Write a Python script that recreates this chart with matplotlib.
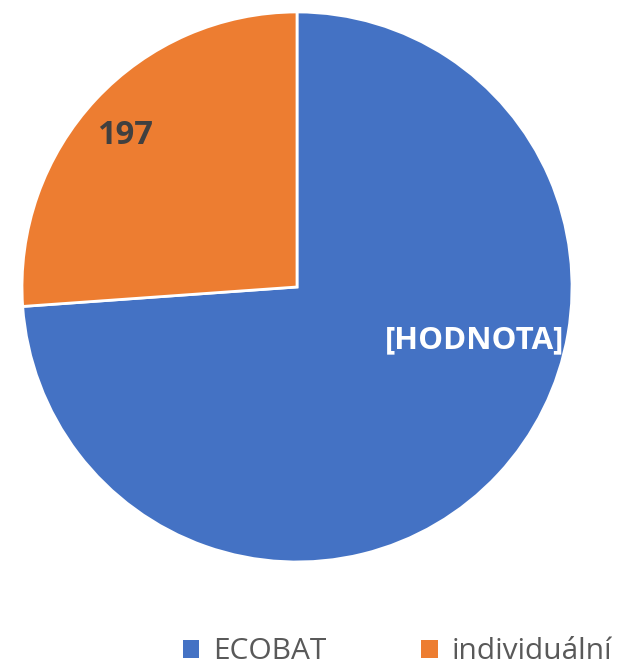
import matplotlib
matplotlib.use("Agg")
import matplotlib.pyplot as plt
from matplotlib.patches import Patch

categories = ["ECOBAT", "individuální"]
values = [557, 197]
labels_text = ["[HODNOTA]", "197"]
colors = ["#4472C4", "#ED7D31"]
label_colors = ["white", "#404040"]

fig = plt.figure(figsize=(6.18, 6.72), dpi=100)
ax = fig.add_axes([0.0356, 0.1637, 0.890, 0.8185])
wedges, _ = ax.pie(values, colors=colors, startangle=90, counterclock=False,
                   radius=1.0, wedgeprops=dict(edgecolor="white", linewidth=2))
ax.set_xlim(-1, 1)
ax.set_ylim(-1, 1)
ax.set_aspect("equal")

# label positions (data coords, radius 1)
label_pos = [(0.645, -0.195), (-0.625, 0.55)]
label_sizes = [22.5, 23.5]
for (x, y), t, c, s in zip(label_pos, labels_text, label_colors, label_sizes):
    ax.text(x, y, t, ha="center", va="center", fontsize=s, fontweight="bold",
            color=c, family=["Open Sans", "DejaVu Sans"])

handles = [Patch(facecolor=col, edgecolor="none") for col in colors]
leg = fig.legend(handles, categories, loc="center", bbox_to_anchor=(0.643, 0.03),
                 ncol=2, frameon=False, handlelength=0.55, handleheight=0.55,
                 columnspacing=3.2, handletextpad=0.45,
                 prop={"family": ["Open Sans", "DejaVu Sans"], "size": 21.5})
for t in leg.get_texts():
    t.set_color("#595959")

fig.savefig("out.png", dpi=100)
